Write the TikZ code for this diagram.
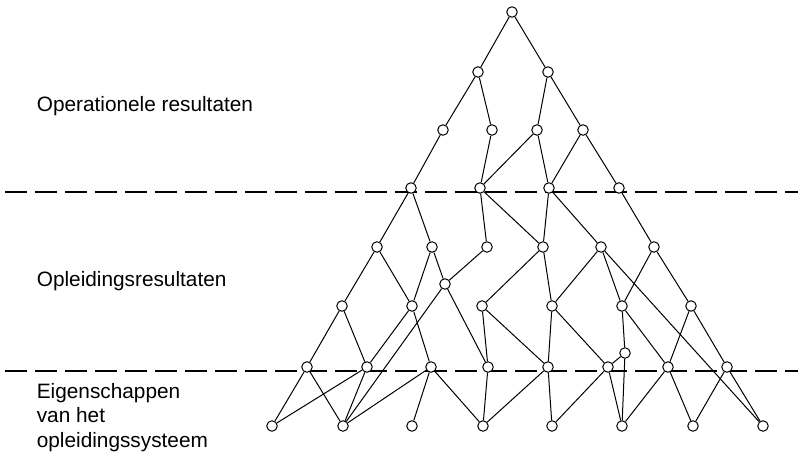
\documentclass[tikz,border=0pt]{standalone}
\usepackage{fontspec}
\newfontfamily\labelfont{Liberation Sans}
\tikzset{
  knoop/.style={circle, draw, fill=white, minimum size=10.5pt, inner sep=0pt, line width=1pt},
  grens/.style={line width=1.2pt, dash pattern=on 22pt off 8pt},
  laag/.style={anchor=base west, align=left, font=\labelfont\fontsize{20.8}{24.5}\selectfont}
}
\begin{document}
\begin{tikzpicture}[x=1pt, y=-1pt, line width=1pt]
  \useasboundingbox (0,0) rectangle (798,454);
  % de twee grenzen tussen de lagen
  \draw[grens] (5,192) -- (798,192);
  \draw[grens] (5,371) -- (798,371);
  \node[laag] (ops) at (33,111.5) {Operationele resultaten};
  \node[laag] (opl) at (33,286.5) {Opleidingsresultaten};
  \node[laag] (eig) at (33,447) {Eigenschappen\\van het\\opleidingssysteem}; % basis = laatste regel
  % bovenste deel
  \node[knoop] (t) at (512,12) {};
  \node[knoop] (a1) at (478,72) {};  \node[knoop] (a2) at (548,72) {};
  \node[knoop] (b1) at (443,130) {}; \node[knoop] (b2) at (492,130) {};
  \node[knoop] (b3) at (537,130) {}; \node[knoop] (b4) at (583,130) {};
  \node[knoop] (c1) at (411,188) {}; \node[knoop] (c2) at (480,188) {};
  \node[knoop] (c3) at (549,188) {}; \node[knoop] (c4) at (619,188) {};
  % middelste deel
  \node[knoop] (d1) at (377,247) {}; \node[knoop] (d2) at (432,247) {};
  \node[knoop] (d3) at (487,247) {}; \node[knoop] (d4) at (543,247) {};
  \node[knoop] (d5) at (601,247) {}; \node[knoop] (d6) at (654,247) {};
  \node[knoop] (e1) at (445,284) {};
  \node[knoop] (f1) at (342,306) {}; \node[knoop] (f2) at (412,306) {};
  \node[knoop] (f3) at (482,306) {}; \node[knoop] (f4) at (552,306) {};
  \node[knoop] (f5) at (622,306) {}; \node[knoop] (f6) at (691,306) {};
  \node[knoop] (g1) at (625,353) {};
  % onderste deel
  \node[knoop] (h1) at (307,367) {}; \node[knoop] (h2) at (367,367) {};
  \node[knoop] (h3) at (431,367) {}; \node[knoop] (h4) at (488,367) {};
  \node[knoop] (h5) at (548,367) {}; \node[knoop] (h6) at (608,367) {};
  \node[knoop] (h7) at (668,367) {}; \node[knoop] (h8) at (727,367) {};
  \node[knoop] (i1) at (272,426) {}; \node[knoop] (i2) at (343,426) {};
  \node[knoop] (i3) at (412,426) {}; \node[knoop] (i4) at (483,426) {};
  \node[knoop] (i5) at (552,426) {}; \node[knoop] (i6) at (622,426) {};
  \node[knoop] (i7) at (693,426) {}; \node[knoop] (i8) at (763,426) {};
  % verbindingen
  \draw (a1) -- (t) -- (a2);
  \draw (b1) -- (a1) -- (b2);  \draw (b3) -- (a2) -- (b4);
  \draw (c1) -- (b1);  \draw (b2) -- (c2) -- (b3) -- (c3) -- (b4) -- (c4);
  \draw (d1) -- (c1) -- (d2);  \draw (d3) -- (c2) -- (d4) -- (c3) -- (d5);
  \draw (c4) -- (d6);
  \draw (f1) -- (d1) -- (f2) -- (d2) -- (e1) -- (d3);
  \draw (f3) -- (d4) -- (f4) -- (d5) -- (f5) -- (d6) -- (f6);
  \draw (d5) -- (i8);
  \draw (i2) -- (e1) -- (h4);
  \draw (h1) -- (f1) -- (h2) -- (f2) -- (h3);
  \draw (h4) -- (f3) -- (h5) -- (f4) -- (h6);
  \draw (f5) -- (g1) -- (h6);  \draw (g1) -- (i6);
  \draw (h7) -- (f5);  \draw (h7) -- (f6) -- (h8);
  \draw (i1) -- (h1) -- (i2) -- (h2) -- (i1);
  \draw (i2) -- (h3) -- (i3);  \draw (h3) -- (i4) -- (h4);
  \draw (i4) -- (h5) -- (i5) -- (h6) -- (i6) -- (h7) -- (i7) -- (h8) -- (i8);
\end{tikzpicture}
\end{document}
